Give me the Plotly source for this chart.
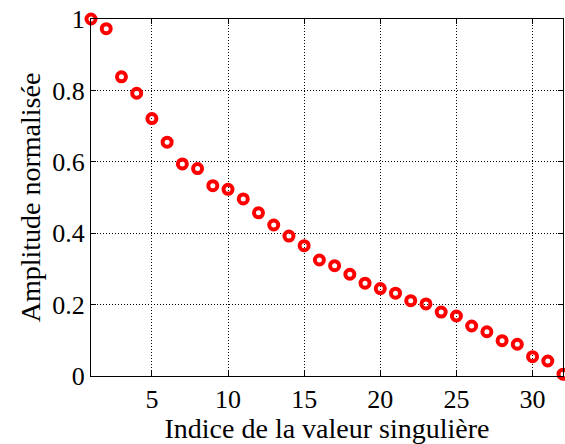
import plotly.graph_objects as go

indices = list(range(1, 33))
amplitudes = [1.0, 0.973, 0.838, 0.792, 0.721, 0.655, 0.594, 0.581, 0.533, 0.523,
              0.496, 0.457, 0.423, 0.392, 0.365, 0.325, 0.309, 0.285, 0.260, 0.245,
              0.232, 0.211, 0.202, 0.179, 0.168, 0.140, 0.124, 0.099, 0.089, 0.054,
              0.042, 0.005]
x_ticks = [5, 10, 15, 20, 25, 30]
y_ticks = [0, 0.2, 0.4, 0.6, 0.8, 1]
y_tick_labels = ["0", "0.2", "0.4", "0.6", "0.8", "1"]

font = "Liberation Serif, Times New Roman, serif"

fig = go.Figure()
fig.add_trace(go.Scatter(
    x=indices, y=amplitudes, mode="markers",
    marker=dict(symbol="circle-open", size=9, color="#ff0000",
                line=dict(width=4, color="#ff0000")),
    cliponaxis=False,
))

axis_common = dict(
    showline=True, linecolor="black", linewidth=1, mirror="allticks",
    ticks="inside", ticklen=5, tickcolor="black",
    showgrid=True, gridcolor="black", griddash="1px,2px", gridwidth=1,
    zeroline=False, automargin=False,
    tickfont=dict(family=font, size=26, color="black"),
)

fig.update_layout(
    width=565, height=444,
    margin=dict(l=91, r=2, t=19, b=68),
    paper_bgcolor="white", plot_bgcolor="white",
    showlegend=False,
    font=dict(family=font, color="black"),
    xaxis=dict(range=[1, 32], tickvals=x_ticks, ticklabelstandoff=0,
               title=dict(text="Indice de la valeur singulière",
                          font=dict(family=font, size=28, color="black"), standoff=1),
               **axis_common),
    yaxis=dict(range=[0, 1], tickvals=y_ticks, ticktext=y_tick_labels,
               title=dict(text="Amplitude normalisée",
                          font=dict(family=font, size=28, color="black"), standoff=3),
               **axis_common),
)

fig.write_html("out.html", config={"displayModeBar": False},
               post_script="document.body.style.margin='0';document.body.style.overflow='hidden';")
